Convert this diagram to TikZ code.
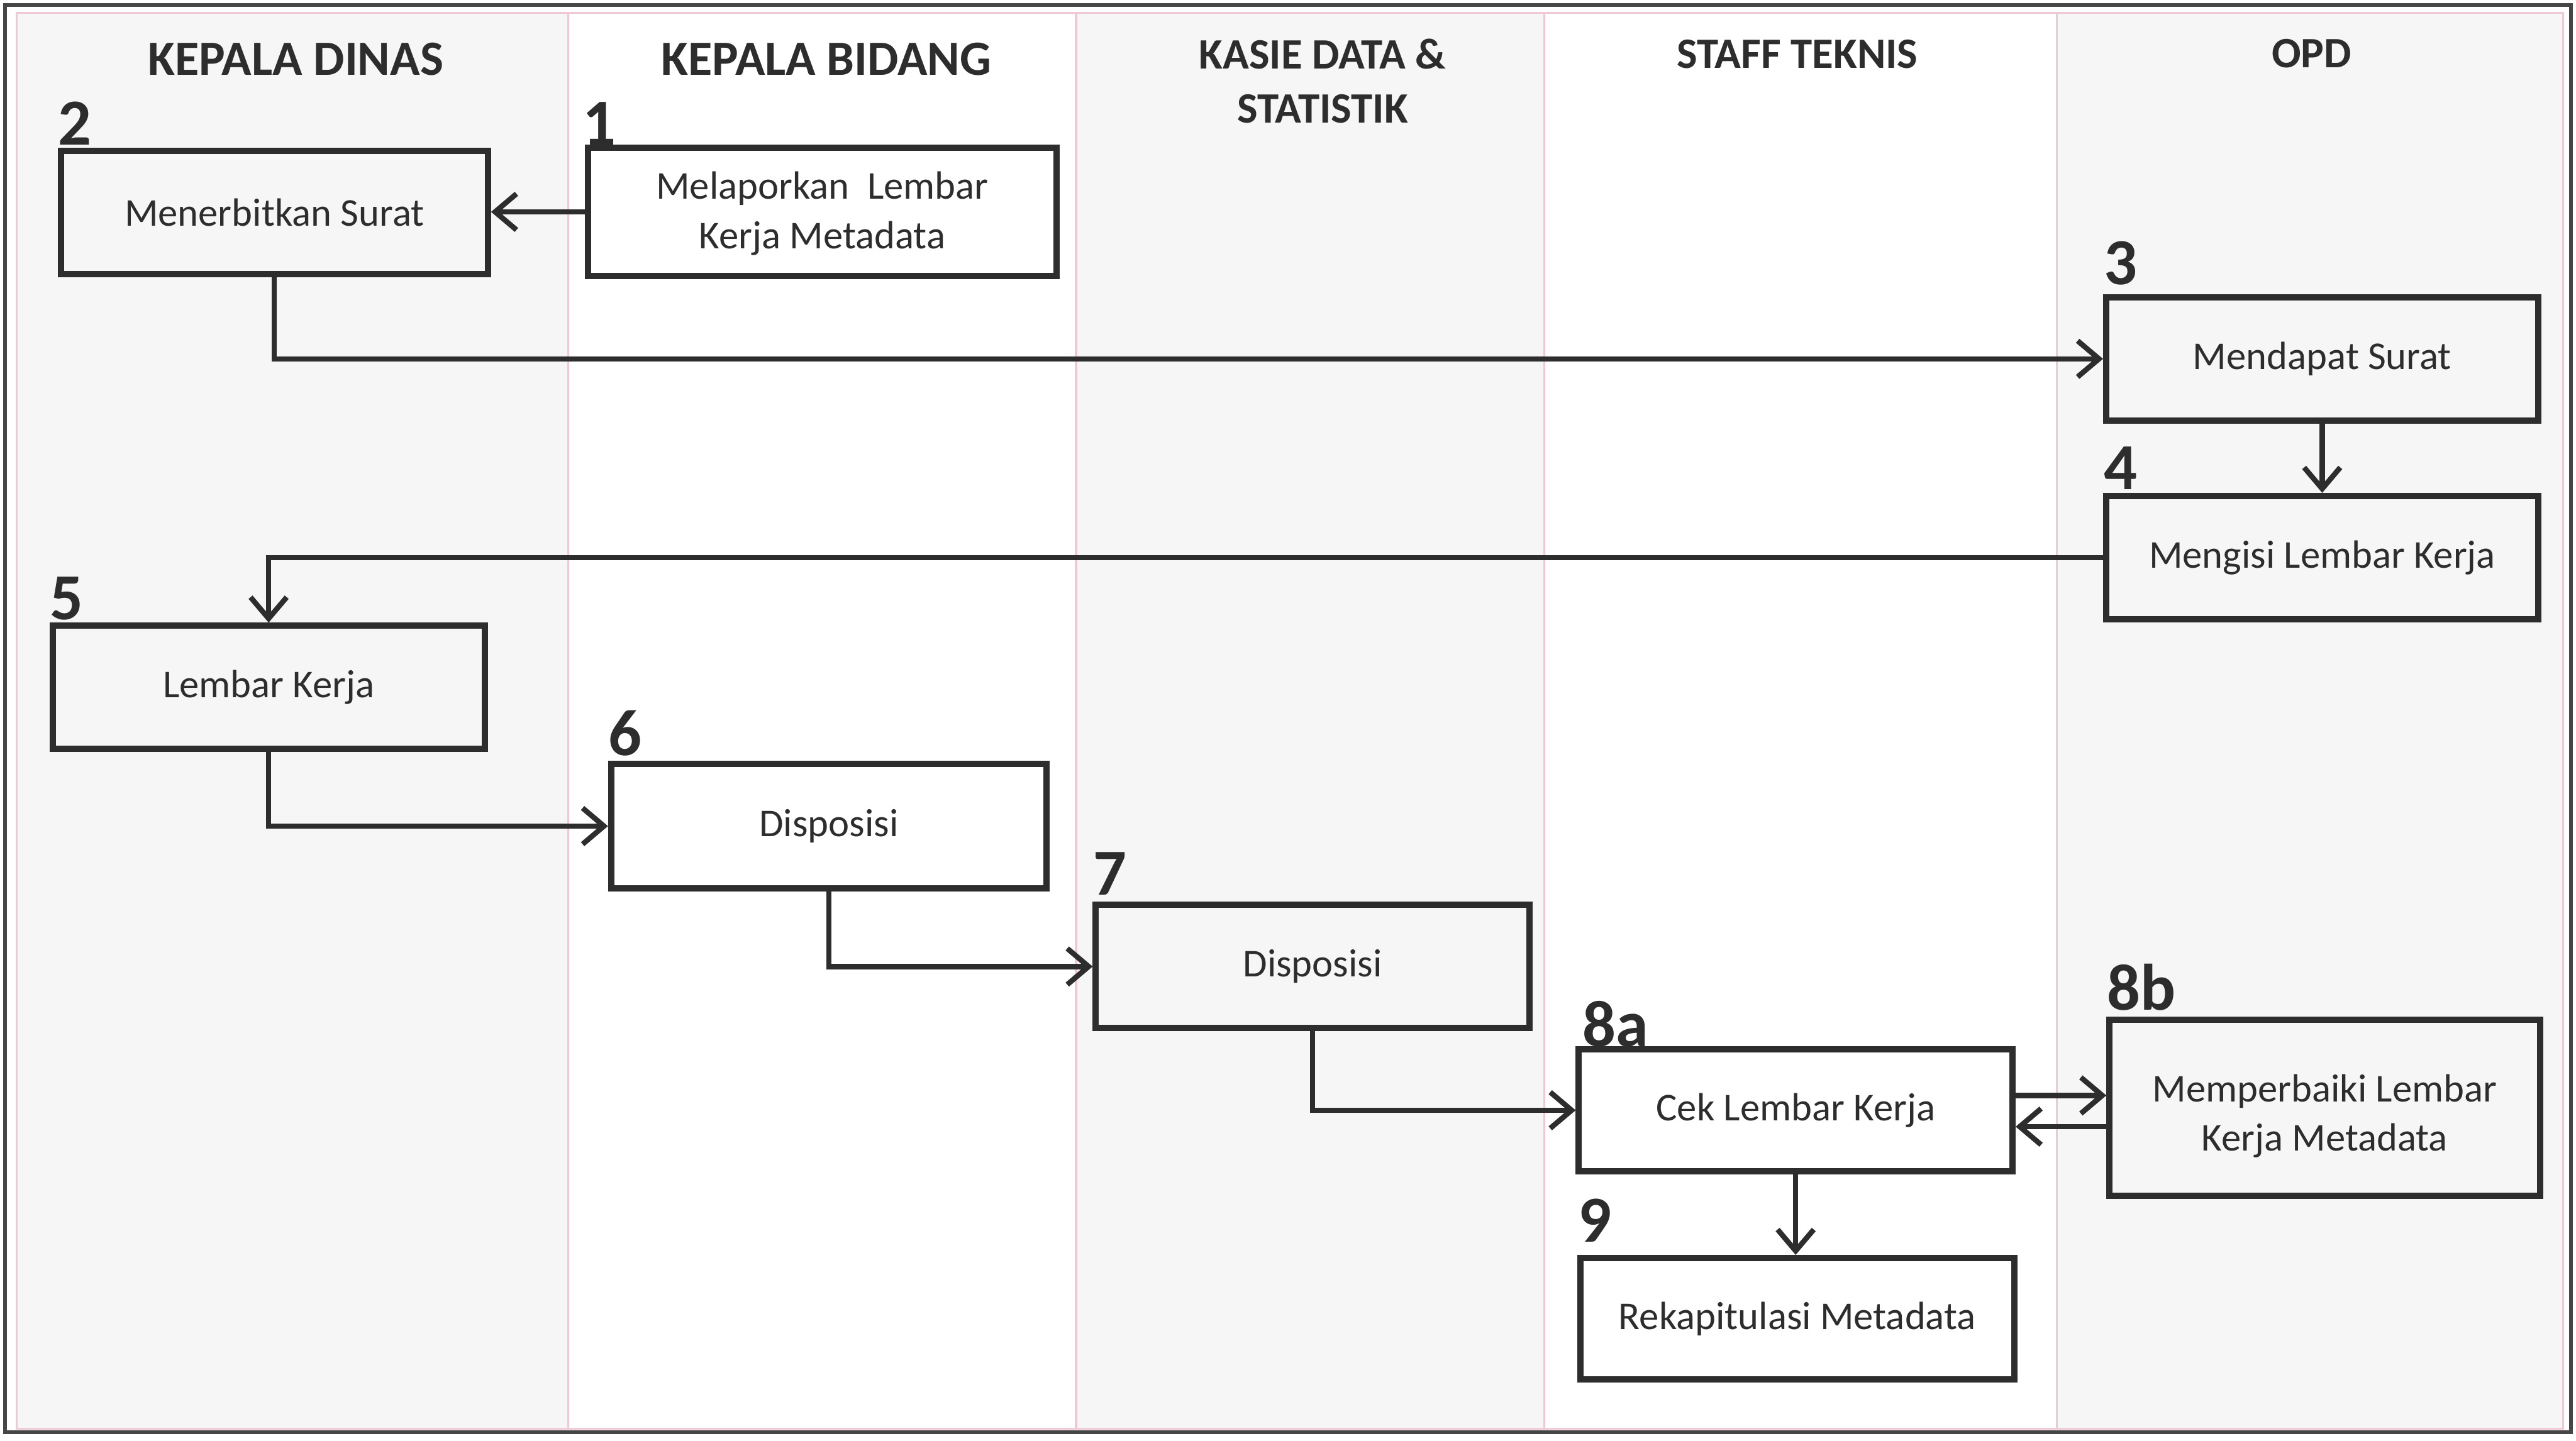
\documentclass[tikz,border=0pt]{standalone}
\usepackage{fontspec}
\setmainfont{Carlito}
\usetikzlibrary{arrows.meta,calc}
\definecolor{ink}{RGB}{45,45,45}
\definecolor{lanepink}{RGB}{238,200,212}
\definecolor{frame}{RGB}{70,70,70}
\definecolor{laneshade}{RGB}{246,246,246}
\begin{document}
\begin{tikzpicture}[x=0.5pt,y=-0.5pt,
  box/.style={draw=ink, line width=1.9pt, rectangle, inner sep=0, align=center,
    font=\fontsize{12}{15}\selectfont, text=ink},
  lbl/.style={align=center, font=\fontsize{12}{15}\selectfont, text=ink, inner sep=0},
  num/.style={anchor=base west, inner sep=0, font=\fontsize{20}{20}\selectfont\bfseries, text=ink},
  hdr/.style={font=\fontsize{15}{18}\selectfont\bfseries, text=ink, inner sep=0, align=center},
  hdrs/.style={font=\fontsize{13.2}{16.5}\selectfont\bfseries, text=ink, inner sep=0, align=center},
  flow/.style={draw=ink, line width=1.6pt, -{Straight Barb[length=6.5pt,width=11pt]}},
]
\useasboundingbox (0,0) rectangle (1568,877.2);
% lanes
\fill[laneshade] (10,8) rectangle (346,870);
\fill[laneshade] (655,8) rectangle (940,870);
\fill[laneshade] (1252,8) rectangle (1560,870);
\draw[lanepink, line width=0.6pt] (10,8) rectangle (1560,870);
\draw[lanepink, line width=0.6pt] (346,8) -- (346,870);
\draw[lanepink, line width=0.6pt] (655,8) -- (655,870);
\draw[lanepink, line width=0.6pt] (940,8) -- (940,870);
\draw[lanepink, line width=0.6pt] (1252,8) -- (1252,870);
\draw[frame, line width=1.2pt] (3,3) rectangle (1565,872);
% headers
\node[hdr] (h1) at (180,36) {KEPALA DINAS};
\node[hdr] (h2) at (503,36) {KEPALA BIDANG};
\node[hdrs] (h3) at (805,49.5) {KASIE DATA \&\\STATISTIK};
\node[hdrs] (h4) at (1094,33) {STAFF TEKNIS};
\node[hdrs] (h5) at (1407,32.5) {OPD};
% boxes
\node[box, minimum width=142.5pt, minimum height=39pt, text depth=1pt] (b1) at (500.5,129) {Melaporkan\ \ Lembar\\Kerja Metadata};
\node[box, minimum width=130pt, minimum height=37.5pt] (b2) at (167,129.5) {Menerbitkan Surat};
\node[box, minimum width=131.5pt, minimum height=37.5pt] (b3) at (1413.5,218.5) {Mendapat Surat};
\node[box, minimum width=131.5pt, minimum height=37.5pt] (b4) at (1413.5,339.5) {Mengisi Lembar Kerja};
\node[box, minimum width=131.5pt, minimum height=37.5pt] (b5) at (163.5,418.5) {Lembar Kerja};
\node[box, minimum width=132.5pt, minimum height=38pt] (b6) at (504.5,503) {Disposisi};
\node[box, minimum width=132pt, minimum height=37.5pt] (b7) at (799,588.5) {Disposisi};
\node[box, minimum width=132pt, minimum height=37pt] (b8a) at (1093,676) {Cek Lembar Kerja};
\node[box, minimum width=131pt, minimum height=53.5pt,
  label={[lbl, yshift=-2.5pt]center:{Memperbaiki Lembar\\Kerja Metadata}}] (b8b) at (1415,674.5) {};
\node[box, minimum width=132pt, minimum height=37pt] (b9) at (1094,803) {Rekapitulasi Metadata};
% numbers
\node[num, xshift=-1pt] (n1) at (b1.north west) {1};
\node[num, yshift=1pt] (n2) at (b2.north west) {2};
\node[num, yshift=3pt] (n3) at (b3.north west) {3};
\node[num, yshift=1pt] (n4) at (b4.north west) {4};
\node[num, yshift=1pt] (n5) at (b5.north west) {5};
\node[num, yshift=1.5pt] (n6) at (b6.north west) {6};
\node[num, yshift=2pt] (n7) at (b7.north west) {7};
\node[num, xshift=2pt] (n8a) at (b8a.north west) {8a};
\node[num, yshift=2pt] (n8b) at (b8b.north west) {8b};
\node[num, yshift=4pt] (n9) at (b9.north west) {9};
% connectors
\draw[flow] (b1.west) -- (b1.west -| b2.east);
\draw[flow] (b2.south) |- (b3.west);
\draw[flow] (b3.south) -- (b3.south |- b4.north);
\draw[flow] (b4.west) -| (b5.north);
\draw[flow] (b5.south) |- (b6.west);
\draw[flow] (b6.south) |- (b7.west);
\draw[flow] (b7.south) |- (b8a.west);
\coordinate (up) at ($(b8a.east)+(0,-9)$);
\coordinate (lo) at ($(b8b.west)+(0,11.5)$);
\draw[flow] (up) -- (up -| b8b.west);
\draw[flow] (lo) -- (lo -| b8a.east);
\draw[flow] (b8a.south) -- (b8a.south |- b9.north);
\end{tikzpicture}
\end{document}
